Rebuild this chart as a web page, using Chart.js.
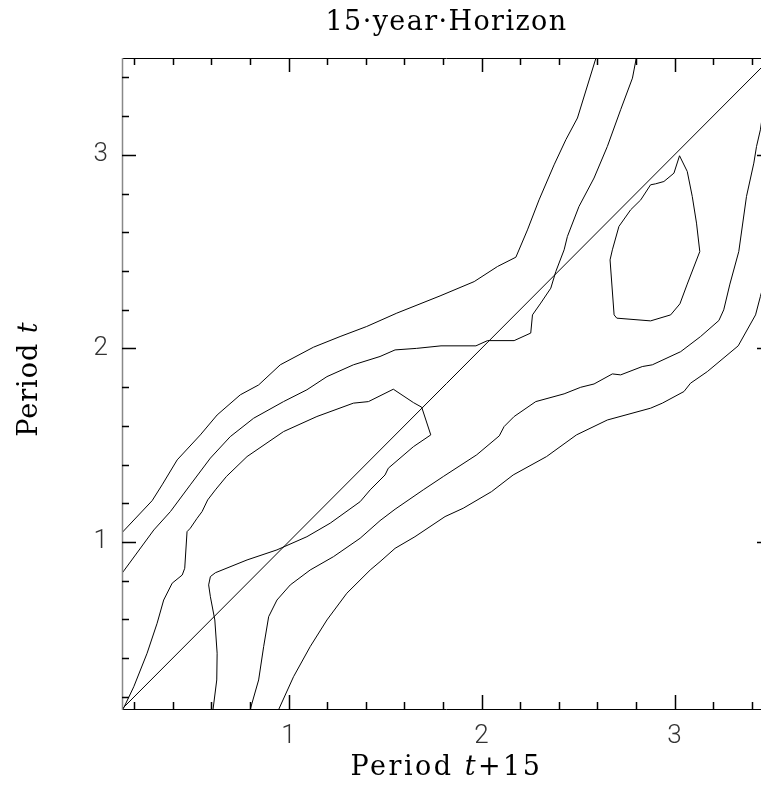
<!DOCTYPE html>
<html>
<head>
<meta charset="utf-8">
<script src="https://cdn.jsdelivr.net/npm/chart.js@4.4.1/dist/chart.umd.min.js"></script>
<style>
  html, body { margin: 0; padding: 0; background: #fff; overflow: hidden; }
  #wrap { position: absolute; left: 0; top: 0; width: 790px; height: 789px; }
</style>
</head>
<body>
<div id="wrap"><canvas id="chart" width="790" height="789"></canvas></div>
<script>
// both axes share the same range (the right edge is cut off in the picture)
const axisMin = 0.137;
const axisMax = 3.5;
const majorTicks = [1, 2, 3];

// contour lines: x = Period t+15, y = Period t
const outerUpperX = [0.137, 0.293, 0.345, 0.423, 0.543, 0.630, 0.750, 0.845, 0.957, 1.129, 1.267, 1.405, 1.561, 1.785, 1.962, 2.083, 2.178, 2.238, 2.298, 2.376, 2.437, 2.497, 2.593];
const outerUpperY = [1.048, 1.213, 1.295, 1.424, 1.553, 1.656, 1.760, 1.811, 1.915, 2.006, 2.061, 2.113, 2.182, 2.271, 2.345, 2.423, 2.471, 2.612, 2.767, 2.948, 3.078, 3.190, 3.500];

const innerUpperX = [0.137, 0.302, 0.388, 0.491, 0.595, 0.698, 0.819, 0.974, 1.095, 1.199, 1.336, 1.474, 1.552, 1.664, 1.790, 1.971, 2.031, 2.169, 2.255, 2.264, 2.307, 2.359, 2.385, 2.428, 2.445, 2.505, 2.583, 2.652, 2.721, 2.782, 2.802];
const innerUpperY = [0.838, 1.062, 1.157, 1.295, 1.433, 1.544, 1.639, 1.725, 1.786, 1.854, 1.915, 1.958, 1.992, 2.000, 2.013, 2.013, 2.040, 2.040, 2.079, 2.173, 2.234, 2.311, 2.397, 2.509, 2.578, 2.733, 2.880, 3.043, 3.233, 3.396, 3.500];

const leftLoopX = [0.143, 0.198, 0.267, 0.319, 0.353, 0.397, 0.449, 0.462, 0.474, 0.491, 0.526, 0.552, 0.581, 0.621, 0.678, 0.785, 0.974, 1.147, 1.336, 1.414, 1.543, 1.647, 1.690, 1.737, 1.647, 1.517, 1.500, 1.474, 1.423, 1.371, 1.216, 1.095, 0.940, 0.785, 0.621, 0.595, 0.586, 0.595, 0.618, 0.630, 0.628, 0.609];
const leftLoopY = [0.137, 0.252, 0.425, 0.580, 0.700, 0.787, 0.829, 0.864, 1.053, 1.071, 1.122, 1.157, 1.217, 1.269, 1.338, 1.441, 1.570, 1.648, 1.717, 1.725, 1.789, 1.720, 1.696, 1.553, 1.492, 1.381, 1.346, 1.320, 1.269, 1.208, 1.097, 1.027, 0.959, 0.907, 0.841, 0.821, 0.778, 0.717, 0.597, 0.425, 0.287, 0.137];

const innerLowerX = [0.802, 0.845, 0.871, 0.897, 0.940, 1.009, 1.112, 1.233, 1.371, 1.474, 1.552, 1.698, 1.802, 1.975, 2.092, 2.117, 2.169, 2.281, 2.428, 2.514, 2.583, 2.678, 2.721, 2.833, 2.885, 3.032, 3.135, 3.230, 3.255, 3.287, 3.333, 3.373, 3.411, 3.425, 3.445, 3.470];
const innerLowerY = [0.137, 0.287, 0.459, 0.614, 0.700, 0.778, 0.855, 0.924, 1.019, 1.110, 1.169, 1.269, 1.338, 1.450, 1.548, 1.596, 1.648, 1.725, 1.765, 1.799, 1.816, 1.868, 1.863, 1.906, 1.915, 1.983, 2.061, 2.144, 2.199, 2.332, 2.500, 2.785, 2.957, 3.043, 3.129, 3.300];

const outerLowerX = [0.950, 1.026, 1.112, 1.199, 1.302, 1.423, 1.474, 1.552, 1.655, 1.811, 1.905, 2.052, 2.164, 2.337, 2.492, 2.652, 2.876, 2.937, 3.049, 3.083, 3.170, 3.330, 3.420, 3.445, 3.470];
const outerLowerY = [0.137, 0.304, 0.459, 0.597, 0.735, 0.855, 0.898, 0.967, 1.027, 1.131, 1.174, 1.260, 1.346, 1.441, 1.553, 1.630, 1.691, 1.717, 1.777, 1.820, 1.880, 2.013, 2.173, 2.268, 2.360];

const rightLoopX = [3.026, 3.066, 3.092, 3.114, 3.131, 3.066, 3.028, 2.980, 2.876, 2.701, 2.687, 2.666, 2.678, 2.712, 2.773, 2.825, 2.876, 2.902, 2.945, 2.997, 3.026];
const rightLoopY = [2.995, 2.914, 2.785, 2.647, 2.500, 2.332, 2.230, 2.173, 2.142, 2.156, 2.173, 2.457, 2.509, 2.630, 2.716, 2.767, 2.845, 2.850, 2.862, 2.905, 2.995];

const diagonalX = [axisMin, axisMax];
const diagonalY = [axisMin, axisMax];

function pts(xs, ys) {
    return xs.map((x, i) => ({ x: x, y: ys[i] }));
}

function line(xs, ys) {
    return {
        data: pts(xs, ys),
        showLine: true,
        borderColor: '#000',
        borderWidth: 1,
        pointRadius: 0,
        fill: false,
        tension: 0
    };
}

// frame, inward ticks and titles in the old plotting style
const framePlugin = {
    id: 'framePlugin',
    afterDraw(chart) {
        const { ctx, chartArea: a, scales: { x, y } } = chart;
        ctx.save();

        ctx.lineWidth = 1;
        ctx.strokeStyle = '#000';
        ctx.beginPath();
        ctx.moveTo(a.left, a.bottom + 0.5); ctx.lineTo(a.right, a.bottom + 0.5);
        ctx.moveTo(a.left, a.top + 0.5); ctx.lineTo(a.right, a.top + 0.5);
        ctx.moveTo(a.right - 0.5, a.top); ctx.lineTo(a.right - 0.5, a.bottom);
        ctx.stroke();
        ctx.strokeStyle = '#888';
        ctx.lineWidth = 1.5;
        ctx.beginPath();
        ctx.moveTo(a.left + 0.5, a.top); ctx.lineTo(a.left + 0.5, a.bottom + 1);
        ctx.stroke();

        ctx.strokeStyle = '#000';
        ctx.lineWidth = 1.5;
        ctx.beginPath();
        for (let i = 1; i * 0.2 < axisMax; i++) {
            const v = i * 0.2;
            const len = (i % 5 === 0) ? 14 : 7;
            const px = Math.round(x.getPixelForValue(v)) + 0.5;
            const py = Math.round(y.getPixelForValue(v)) + 0.5;
            ctx.moveTo(px, a.bottom); ctx.lineTo(px, a.bottom - len);
            ctx.moveTo(px, a.top); ctx.lineTo(px, a.top + len);
            ctx.moveTo(a.left, py); ctx.lineTo(a.left + len, py);
            ctx.moveTo(a.right, py); ctx.lineTo(a.right - len, py);
        }
        ctx.stroke();

        const cx = (a.left + a.right) / 2;
        const hasSpacing = 'letterSpacing' in ctx;
        ctx.fillStyle = '#000';
        ctx.textBaseline = 'alphabetic';
        if (hasSpacing) ctx.letterSpacing = '1.4px';
        ctx.font = '27px "DejaVu Serif"';
        ctx.textAlign = 'center';
        ctx.fillText('15·year·Horizon', cx, 30);

        // axis titles with italic t
        function mixed(parts, midX, baseY) {
            let w = 0;
            parts.forEach(p => { ctx.font = p[1]; w += ctx.measureText(p[0]).width; });
            let xx = midX - w / 2;
            ctx.textAlign = 'left';
            parts.forEach(p => { ctx.font = p[1]; ctx.fillText(p[0], xx, baseY); xx += ctx.measureText(p[0]).width; });
        }
        const up = '27px "DejaVu Serif"';
        const it = 'italic 27px "DejaVu Serif"';
        if (hasSpacing) ctx.letterSpacing = '2.5px';
        mixed([['Period ', up], ['t', it], ['+15', up]], cx, 775);

        if (hasSpacing) ctx.letterSpacing = '1px';
        ctx.translate(37, 379);
        ctx.rotate(-Math.PI / 2);
        mixed([['Period ', up], ['t', it]], 0, 0);

        ctx.restore();
    }
};

const tickFont = { family: 'Roboto, "Liberation Sans"', size: 26, weight: 300 };

new Chart(document.getElementById('chart'), {
    type: 'scatter',
    data: {
        datasets: [
            line(outerUpperX, outerUpperY),
            line(innerUpperX, innerUpperY),
            line(leftLoopX, leftLoopY),
            line(diagonalX, diagonalY),
            line(innerLowerX, innerLowerY),
            line(outerLowerX, outerLowerY),
            line(rightLoopX, rightLoopY)
        ]
    },
    options: {
        responsive: false,
        animation: false,
        devicePixelRatio: 1,
        layout: { padding: { top: 58, right: 19, left: 0, bottom: 0 } },
        plugins: {
            legend: { display: false },
            tooltip: { enabled: false },
            title: { display: false }
        },
        scales: {
            x: {
                type: 'linear',
                position: 'bottom',
                min: axisMin,
                max: axisMax,
                grid: { display: false, drawTicks: false },
                border: { display: false },
                ticks: {
                    includeBounds: false,
                    stepSize: 1,
                    autoSkip: false,
                    maxRotation: 0,
                    padding: 12,
                    color: '#333',
                    font: tickFont,
                    callback: v => majorTicks.includes(v) ? String(v) : ''
                },
                afterFit: s => { s.height = 80; }
            },
            y: {
                type: 'linear',
                position: 'left',
                min: axisMin,
                max: axisMax,
                grid: { display: false, drawTicks: false },
                border: { display: false },
                ticks: {
                    includeBounds: false,
                    stepSize: 1,
                    autoSkip: false,
                    padding: 14,
                    color: '#333',
                    font: tickFont,
                    callback: v => majorTicks.includes(v) ? String(v) : ''
                },
                afterFit: s => { s.width = 122; }
            }
        }
    },
    plugins: [framePlugin]
});
</script>
</body>
</html>
